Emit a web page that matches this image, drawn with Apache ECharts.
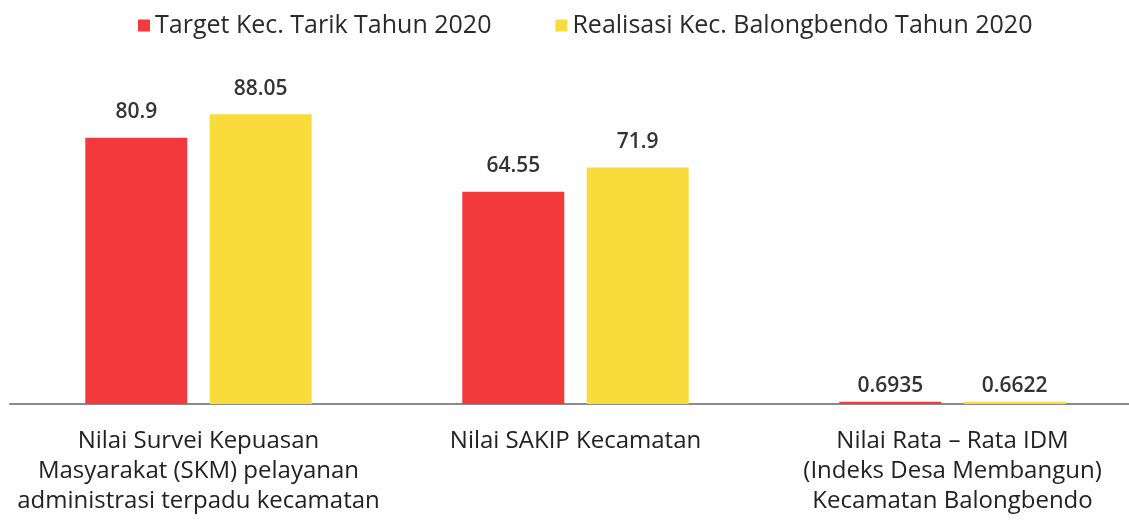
<!DOCTYPE html>
<html>
<head>
<meta charset="utf-8">
<script src="https://cdn.jsdelivr.net/npm/echarts@6/dist/echarts.min.js"></script>
<style>
  html, body { margin: 0; padding: 0; background: #fff; overflow: hidden; }
  #chart { width: 1145px; height: 525px; }
</style>
</head>
<body>
<div id="chart"></div>
<script>
// data
let categories = [
  "Nilai Survei Kepuasan\nMasyarakat (SKM) pelayanan\nadministrasi terpadu kecamatan",
  "Nilai SAKIP Kecamatan",
  "Nilai Rata – Rata IDM\n(Indeks Desa Membangun)\nKecamatan Balongbendo",
];
let targetName = "Target Kec. Tarik Tahun 2020";
let realisasiName = "Realisasi Kec. Balongbendo Tahun 2020";
let targetValues = [80.9, 64.55, 0.6935];
let realisasiValues = [88.05, 71.9, 0.6622];

let myChart = echarts.init(document.getElementById("chart"));
let labelStyle = {
  show: true,
  position: "top",
  distance: 15,
  color: "#333",
  fontSize: 21,
  fontFamily: "Open Sans",
  fontWeight: 600,
  formatter: (p) => String(p.value),
};
// the tiny IDM bars have their labels sitting closer
let toItems = (arr) =>
  arr.map((v, i) => (i === 2 ? { value: v, label: { distance: 5 } } : v));

let option = {
  animation: false,
  legend: {
    top: 8,
    left: 133,
    itemWidth: 12,
    itemHeight: 12,
    itemGap: 64,
    icon: "rect",
    textStyle: { fontSize: 25, color: "#2a2a2a", fontFamily: "Open Sans", fontWeight: 500 },
    data: [targetName, realisasiName],
  },
  grid: {
    left: 10,
    width: 1131,
    top: 75,
    bottom: 121,
  },
  xAxis: {
    type: "category",
    data: categories,
    axisTick: { show: false },
    axisLine: { lineStyle: { color: "#8a8a8a", width: 2 } },
    axisLabel: {
      margin: 22,
      fontSize: 24,
      lineHeight: 30,
      color: "#222",
      fontFamily: "Open Sans",
      interval: 0,
    },
  },
  yAxis: {
    type: "value",
    min: 0,
    max: 100,
    show: false,
    splitLine: { show: false },
  },
  series: [
    {
      name: targetName,
      type: "bar",
      barWidth: 102,
      barGap: "22%",
      itemStyle: { color: "#F23A3C" },
      label: labelStyle,
      data: toItems(targetValues),
    },
    {
      name: realisasiName,
      type: "bar",
      barWidth: 102,
      itemStyle: { color: "#F9DC3C" },
      label: labelStyle,
      data: toItems(realisasiValues),
    },
  ],
};
myChart.setOption(option);
</script>
</body>
</html>
